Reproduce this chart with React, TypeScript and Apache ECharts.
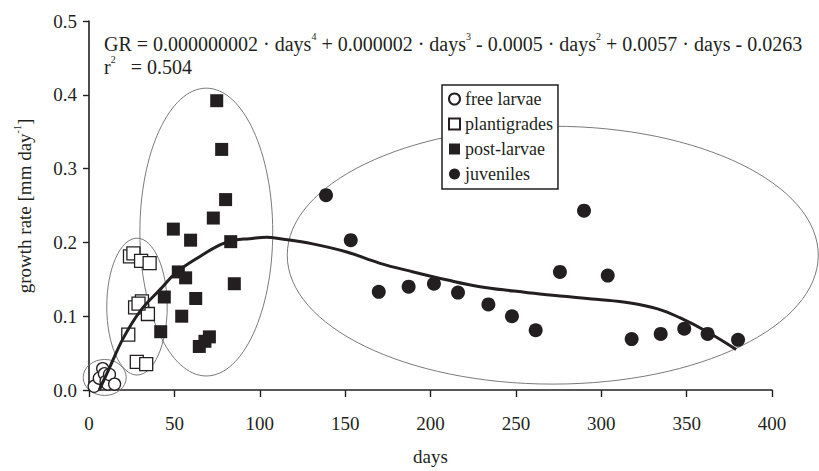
import React, { useEffect, useRef } from "react";
import * as echarts from "echarts";

// ---- data ----
const freeLarvae: [number, number][] = [
  [3, 0.005], [6, 0.016], [8, 0.029], [9, 0.022], [10, 0.012], [11, 0.008], [12, 0.021], [15, 0.008],
];
const plantigrades: [number, number][] = [
  [24, 0.181], [26, 0.185], [30.5, 0.175], [35.5, 0.172], [27, 0.112], [31, 0.120],
  [34.5, 0.103], [29, 0.117], [23, 0.075], [28, 0.038], [33.5, 0.035],
];
const postLarvae: [number, number][] = [
  [74.8, 0.392], [77.7, 0.326], [80.0, 0.258], [72.8, 0.233], [49.4, 0.218], [59.5, 0.203],
  [83.0, 0.201], [52.3, 0.160], [56.6, 0.152], [85.1, 0.144], [44.1, 0.126], [62.5, 0.124],
  [54.3, 0.100], [42.0, 0.079], [70.5, 0.072], [67.9, 0.066], [64.6, 0.059],
];
const juveniles: [number, number][] = [
  [138.8, 0.264], [153.3, 0.203], [169.7, 0.133], [187.2, 0.140], [202.0, 0.144], [216.1, 0.132],
  [233.9, 0.116], [247.7, 0.100], [261.6, 0.081], [275.8, 0.160], [289.9, 0.243], [303.8, 0.155],
  [317.8, 0.069], [334.8, 0.076], [348.6, 0.083], [362.3, 0.076], [380.1, 0.068],
];
const trendDays = [6, 12, 20, 30, 42, 51, 65, 77, 85, 94, 104, 112, 131, 151, 170, 190, 210, 229, 249, 264, 278, 297, 317, 333, 346, 362, 379];
const trendGR = [0.0, 0.03, 0.07, 0.107, 0.137, 0.159, 0.181, 0.197, 0.203, 0.205, 0.207, 0.205, 0.198, 0.187, 0.172, 0.16, 0.149, 0.14, 0.134, 0.13, 0.127, 0.123, 0.118, 0.11, 0.098, 0.079, 0.055];
// group ellipses: [centre days, centre GR, radius days, radius GR]
const groupEllipses: [number, number, number, number][] = [
  [9.2, 0.017, 12.6, 0.0244],
  [28.1, 0.113, 17.7, 0.0927],
  [68.7, 0.214, 38.9, 0.195],
  [271.6, 0.1827, 155.5, 0.1747],
];
const seriesNames = ["free larvae", "plantigrades", "post-larvae", "juveniles"];
const xMin = 0, xMax = 400, xStep = 50;
const yMin = 0, yMax = 0.5, yStep = 0.1;

const FONT = "Liberation Serif";
const INK = "#231f20";

export default function App() {
  const ref = useRef<HTMLDivElement>(null);
  useEffect(() => {
    if (!ref.current) return;
    const chart = echarts.init(ref.current, null, { renderer: "svg" });
    const open = { color: "#ffffff", borderColor: INK, borderWidth: 1.3, opacity: 1 };
    const filled = { color: INK, borderColor: INK, borderWidth: 0, opacity: 1 };
    chart.setOption({
      animation: false,
      backgroundColor: "#ffffff",
      textStyle: { fontFamily: FONT, color: INK },
      grid: { left: 89, right: 47, top: 21, bottom: 75 },
      xAxis: {
        type: "value", min: xMin, max: xMax, interval: xStep,
        name: "days", nameLocation: "middle", nameGap: 57,
        nameTextStyle: { fontFamily: FONT, fontSize: 19, color: INK },
        axisLine: { show: true, lineStyle: { color: INK, width: 1.6 } },
        axisTick: { show: true, inside: false, length: 7, lineStyle: { color: INK, width: 1.4 } },
        axisLabel: { fontFamily: FONT, fontSize: 19, color: INK, margin: 24 },
        splitLine: { show: false },
      },
      yAxis: {
        type: "value", min: yMin, max: yMax, interval: yStep,
        axisLine: { show: true, lineStyle: { color: INK, width: 1.6 } },
        axisTick: { show: true, inside: false, length: 6, lineStyle: { color: INK, width: 1.4 } },
        axisLabel: { fontFamily: FONT, fontSize: 19, color: INK, margin: 12, formatter: (v: number) => v.toFixed(1) },
        splitLine: { show: false },
      },
      legend: {
        data: [
          { name: seriesNames[0], icon: "circle" },
          { name: seriesNames[1], icon: "rect" },
          { name: seriesNames[2], icon: "rect" },
          { name: seriesNames[3], icon: "circle" },
        ],
        orient: "vertical", left: 442, top: 85,
        itemWidth: 11, itemHeight: 11, itemGap: 7,
        backgroundColor: "#ffffff", borderColor: INK, borderWidth: 1.5, borderRadius: 0,
        padding: [5, 5, 6, 6],
        textStyle: { fontFamily: FONT, fontSize: 18, color: INK },
        selectedMode: false,
      },
      graphic: [
        {
          type: "text", left: 104, top: 31, silent: true,
          style: {
            text:
              "{n|GR = 0.000000002 · days}{s|4}{n| + 0.000002 · days}{s|3}{n| - 0.0005 · days}{s|2}{n| + 0.0057 · days - 0.0263}\n{n|r}{s|2}{n|   = 0.504}",
            rich: {
              n: { fontFamily: FONT, fontSize: 20, lineHeight: 23, fill: INK, verticalAlign: "bottom" },
              s: { fontFamily: FONT, fontSize: 10, lineHeight: 15, fill: INK, verticalAlign: "top" },
            },
          },
        },
        {
          type: "text", x: 23, y: 206, rotation: Math.PI / 2, silent: true,
          style: {
            text: "{n|growth rate [mm day}{s|-1}{n|]}",
            align: "center", verticalAlign: "middle",
            rich: {
              n: { fontFamily: FONT, fontSize: 19, lineHeight: 22, fill: INK, verticalAlign: "bottom" },
              s: { fontFamily: FONT, fontSize: 10, lineHeight: 14, fill: INK, verticalAlign: "top" },
            },
          },
        },
      ],
      series: [
        {
          type: "custom", name: "groups", silent: true, clip: false, z: 1,
          data: groupEllipses,
          encode: { x: 0, y: 1 },
          renderItem: (_p: any, api: any) => {
            const c = api.coord([api.value(0), api.value(1)]);
            const s = api.size([api.value(2), api.value(3)]);
            return {
              type: "ellipse",
              shape: { cx: c[0], cy: c[1], rx: s[0], ry: s[1] },
              style: { fill: "none", stroke: "#6b6b6b", lineWidth: 0.9 },
            };
          },
        },
        { type: "scatter", name: seriesNames[0], data: freeLarvae, symbol: "circle", symbolSize: 12, itemStyle: open },
        { type: "scatter", name: seriesNames[1], data: plantigrades, symbol: "rect", symbolSize: 13, itemStyle: open },
        { type: "scatter", name: seriesNames[2], data: postLarvae, symbol: "rect", symbolSize: 13, itemStyle: filled },
        { type: "scatter", name: seriesNames[3], data: juveniles, symbol: "circle", symbolSize: 14, itemStyle: filled },
        {
          type: "line", name: "trend", data: trendDays.map((d, i) => [d, trendGR[i]]),
          smooth: 0.4, showSymbol: false, symbol: "none", z: 3,
          lineStyle: { color: INK, width: 3 },
        },
      ],
    });
    return () => chart.dispose();
  }, []);
  return <div ref={ref} style={{ width: 819, height: 471, position: "absolute", left: 0, top: 0 }} />;
}
